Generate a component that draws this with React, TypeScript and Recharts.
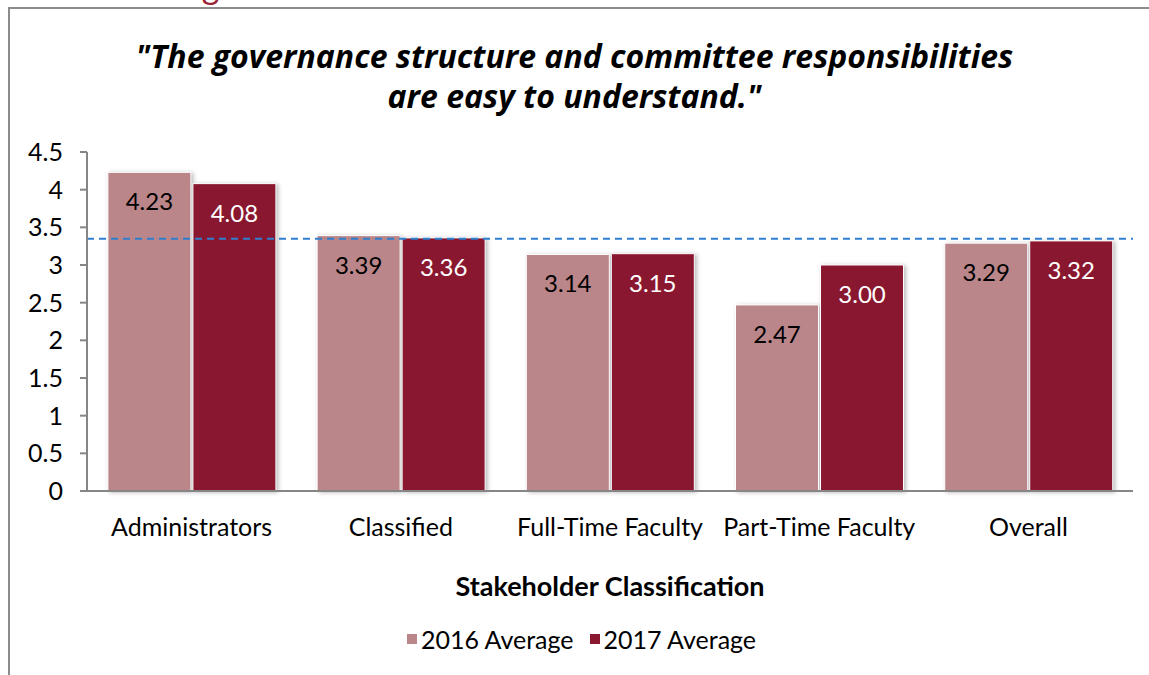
import React from 'react';
import { BarChart, Bar, XAxis, YAxis, Legend, LabelList, ReferenceLine, Rectangle } from 'recharts';

const categories = ['Administrators', 'Classified', 'Full-Time Faculty', 'Part-Time Faculty', 'Overall'];
const avg2016 = [4.23, 3.39, 3.14, 2.47, 3.29];
const avg2017 = [4.08, 3.36, 3.15, 3.0, 3.32];
const yTicks = [0, 0.5, 1, 1.5, 2, 2.5, 3, 3.5, 4, 4.5];
const benchmark = 3.35;

const C2016 = '#ba868a';
const C2017 = '#8a1730';
const FONT = 'Lato, "Open Sans", sans-serif';

const data = categories.map((name, i) => ({ name, y2016: avg2016[i], y2017: avg2017[i] }));

const ShadowBar = (props: any) => (
  <Rectangle
    x={props.x}
    y={props.y}
    width={props.width}
    height={props.height}
    fill={props.fill}
    stroke="#ffffff"
    strokeWidth={1}
    style={{ filter: 'drop-shadow(2px 1px 2px rgba(0,0,0,0.28))' }}
  />
);

const LegendContent = () => (
  <div style={{ height: 26, lineHeight: '26px', textAlign: 'center', fontFamily: FONT, fontSize: 25, color: '#000', paddingLeft: 30 }}>
    <span style={{ display: 'inline-block', width: 10, height: 10, background: C2016, marginRight: 4, verticalAlign: 'middle' }} />
    <span style={{ marginRight: 16, verticalAlign: 'middle' }}>2016 Average</span>
    <span style={{ display: 'inline-block', width: 10, height: 10, background: C2017, marginRight: 4, verticalAlign: 'middle' }} />
    <span style={{ verticalAlign: 'middle' }}>2017 Average</span>
  </div>
);

const fmt = (v: any) => Number(v).toFixed(2);

export default function App() {
  return (
    <div style={{ position: 'fixed', left: 0, top: 0, width: 1149, height: 675, overflow: 'hidden', background: '#fff' }}>
      <div
        style={{
          position: 'absolute',
          left: 0,
          top: -31,
          fontFamily: FONT,
          fontSize: 34,
          color: '#9b2335',
          whiteSpace: 'nowrap',
          lineHeight: '34px',
        }}
      >
        Understanding of Governance and Education
      </div>
      <div
        style={{
          position: 'absolute',
          left: 8,
          top: 7,
          width: 1200,
          height: 700,
          borderLeft: '2px solid #8c8c8c',
          borderTop: '2px solid #8c8c8c',
          background: '#fff',
        }}
      />
      <div
        style={{
          position: 'absolute',
          left: 0,
          top: 36,
          width: 1149,
          textAlign: 'center',
          fontFamily: '"Open Sans", Lato, sans-serif',
          fontWeight: 700,
          fontStyle: 'italic',
          fontSize: 32,
          lineHeight: '40px',
          color: '#000',
        }}
      >
        "The governance structure and committee responsibilities
        <br />
        are easy to understand."
      </div>
      <div style={{ position: 'absolute', left: 0, top: 0 }}>
        <BarChart
          width={1149}
          height={675}
          data={data}
          margin={{ top: 152, right: 16, left: 0, bottom: 27 }}
          barCategoryGap="10%"
          barGap={2}
        >
          <XAxis
            dataKey="name"
            height={131}
            tickSize={0}
            tickMargin={27}
            axisLine={{ stroke: '#868686', strokeWidth: 2 }}
            tick={{ fill: '#000', fontSize: 25, fontFamily: FONT }}
            interval={0}
            label={{
              value: 'Stakeholder Classification',
              position: 'insideBottom',
              offset: 26,
              fill: '#000',
              fontSize: 27,
              fontWeight: 700,
              fontFamily: FONT,
            }}
          />
          <YAxis
            width={87}
            domain={[0, 4.5]}
            ticks={yTicks}
            interval={0}
            tickSize={7}
            tickMargin={17}
            axisLine={{ stroke: '#868686', strokeWidth: 2 }}
            tickLine={{ stroke: '#868686', strokeWidth: 2 }}
            tick={{ fill: '#000', fontSize: 25, fontFamily: FONT }}
          />
          <ReferenceLine y={benchmark} stroke="#2f7fd0" strokeWidth={2} strokeDasharray="7 5" />
          <Bar dataKey="y2016" name="2016 Average" fill={C2016} shape={ShadowBar} isAnimationActive={false}>
            <LabelList dataKey="y2016" position="insideTop" offset={21} formatter={fmt} fill="#000" fontSize={24} fontFamily={FONT} />
          </Bar>
          <Bar dataKey="y2017" name="2017 Average" fill={C2017} shape={ShadowBar} isAnimationActive={false}>
            <LabelList dataKey="y2017" position="insideTop" offset={21} formatter={fmt} fill="#fff" fontSize={24} fontFamily={FONT} />
          </Bar>
          <Legend verticalAlign="bottom" content={<LegendContent />} />
        </BarChart>
      </div>
    </div>
  );
}
